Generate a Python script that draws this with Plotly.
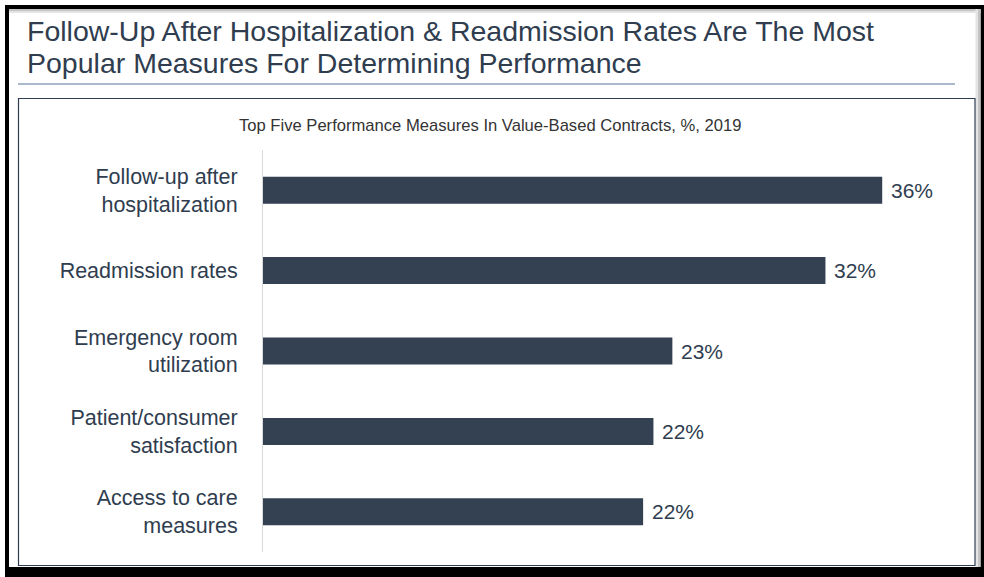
import plotly.graph_objects as go

categories = ["Follow-up after<br>hospitalization", "Readmission rates",
              "Emergency room<br>utilization", "Patient/consumer<br>satisfaction",
              "Access to care<br>measures"]
values = [36.0, 32.7, 23.8, 22.7, 22.1]
value_labels = ["36%", "32%", "23%", "22%", "22%"]

title_lines = ["Follow-Up After Hospitalization & Readmission Rates Are The Most",
               "Popular Measures For Determining Performance"]
subtitle = "Top Five Performance Measures In Value-Based Contracts, %, 2019"

W, H = 984, 577
FONT = "Liberation Sans, Arial, sans-serif"
DARK = "#2f3d4f"
BAR = "#334152"

def px(x):
    return x / W

def py(y):
    return 1 - y / H

fig = go.Figure()
fig.add_trace(go.Bar(
    x=values, y=categories, orientation="h",
    marker=dict(color=BAR, line=dict(width=0)),
    width=0.336, hoverinfo="skip",
))

annotations = []
for v, c, t in zip(values, categories, value_labels):
    annotations.append(dict(x=v, y=c, xref="x", yref="y", text=t, showarrow=False,
                            xanchor="left", yanchor="middle", xshift=7,
                            font=dict(family=FONT, size=21, color=DARK)))
annotations.append(dict(x=px(25), y=py(31), xref="paper", yref="paper", text=title_lines[0],
                        showarrow=False, xanchor="left", yanchor="middle",
                        font=dict(family=FONT, size=28.5, color=DARK)))
annotations.append(dict(x=px(25), y=py(63.5), xref="paper", yref="paper", text=title_lines[1],
                        showarrow=False, xanchor="left", yanchor="middle",
                        font=dict(family=FONT, size=28.5, color=DARK)))
annotations.append(dict(x=px(490), y=py(126), xref="paper", yref="paper", text=subtitle,
                        showarrow=False, xanchor="center", yanchor="middle",
                        font=dict(family=FONT, size=16.6, color="#333333")))

shapes = [
    # outer black frame
    dict(type="rect", xref="paper", yref="paper", x0=px(5), x1=px(984), y0=py(577), y1=py(5),
         fillcolor="black", line=dict(width=0), layer="below"),
    dict(type="rect", xref="paper", yref="paper", x0=px(9), x1=px(980.5), y0=py(567), y1=py(9),
         fillcolor="white", line=dict(width=0), layer="below"),
    # soft inner shadow
    dict(type="rect", xref="paper", yref="paper", x0=px(9), x1=px(980.5), y0=py(11), y1=py(9),
         fillcolor="#c4c4c4", line=dict(width=0), layer="below"),
    dict(type="rect", xref="paper", yref="paper", x0=px(9), x1=px(980.5), y0=py(13), y1=py(11),
         fillcolor="#e4e4e4", line=dict(width=0), layer="below"),
    dict(type="rect", xref="paper", yref="paper", x0=px(978), x1=px(980.5), y0=py(567), y1=py(9),
         fillcolor="#c4c4c4", line=dict(width=0), layer="below"),
    dict(type="rect", xref="paper", yref="paper", x0=px(975.5), x1=px(978), y0=py(567), y1=py(9),
         fillcolor="#e4e4e4", line=dict(width=0), layer="below"),
    # title separator
    dict(type="line", xref="paper", yref="paper", x0=px(18), x1=px(955), y0=py(84), y1=py(84),
         line=dict(color="#8fa2bd", width=1.3)),
    # inner chart box
    dict(type="rect", xref="paper", yref="paper", x0=px(18.5), x1=px(975), y0=py(565.5), y1=py(98.5),
         line=dict(color="#2f3d4f", width=1.2), fillcolor="rgba(0,0,0,0)"),
]

fig.update_layout(
    width=W, height=H, autosize=False,
    margin=dict(l=0, r=0, t=0, b=0, pad=0),
    paper_bgcolor="white", plot_bgcolor="rgba(0,0,0,0)",
    showlegend=False,
    bargap=0.66,
    xaxis=dict(domain=[px(263), px(963)], range=[0, 700 / 17.2], visible=False, fixedrange=True),
    yaxis=dict(domain=[py(552), py(150)], autorange="reversed", showline=True,
               linecolor="#d9d9d9", linewidth=1, showgrid=False, zeroline=False,
               ticks="outside", ticklen=20, tickcolor="rgba(0,0,0,0)",
               tickfont=dict(family=FONT, size=21.5, color=DARK), fixedrange=True),
    annotations=annotations,
    shapes=shapes,
)

fig.write_html("out.html", config={"displayModeBar": False},
               post_script="document.body.style.margin='0';document.body.style.overflow='hidden';")
